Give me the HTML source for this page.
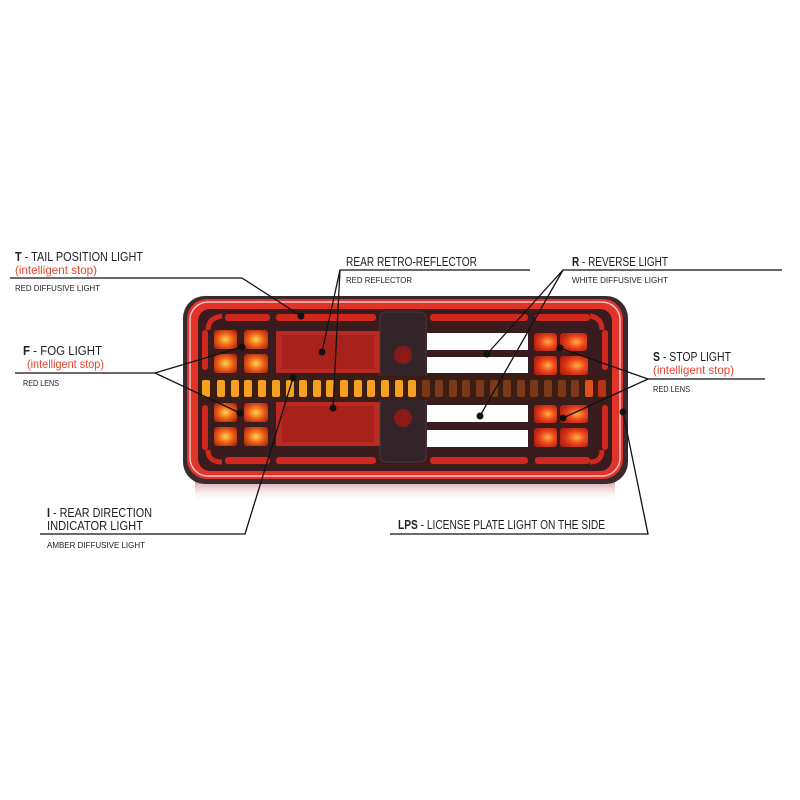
<!DOCTYPE html>
<html><head><meta charset="utf-8"><style>
html,body{margin:0;padding:0;background:#fff;}
svg{display:block}
.t{font-family:"Liberation Sans",sans-serif;fill:#222;}
.h{font-size:12.5px}
.s{font-size:8.5px}
.r{font-size:12px;fill:#e8452c}
</style></head><body>
<svg width="800" height="800" viewBox="0 0 800 800" xmlns="http://www.w3.org/2000/svg">
<defs>
<linearGradient id="refl" x1="0" y1="0" x2="0" y2="1">
<stop offset="0" stop-color="#c97a80" stop-opacity="0.8"/><stop offset="1" stop-color="#fff" stop-opacity="0"/>
</linearGradient>
<radialGradient id="led" cx="0.5" cy="0.5" r="0.6">
<stop offset="0" stop-color="#ffd24a"/><stop offset="0.5" stop-color="#f06a1a"/><stop offset="1" stop-color="#b42a10"/>
</radialGradient>
<radialGradient id="ledr" cx="0.6" cy="0.5" r="0.6">
<stop offset="0" stop-color="#ffb040"/><stop offset="0.5" stop-color="#ee4a1e"/><stop offset="1" stop-color="#b8220f"/>
</radialGradient>
</defs>
<rect x="195" y="480" width="420" height="22" fill="url(#refl)"/>
<rect x="183" y="296" width="445" height="188" rx="22" fill="#3a2a2e"/>
<rect x="187" y="299" width="436" height="180" rx="20" fill="#e2332a"/>
<rect x="190" y="302" width="430" height="174" rx="18" fill="none" stroke="#f3c8c4" stroke-width="1.5"/>
<rect x="198" y="309" width="414" height="162" rx="12" fill="#3a1c1e"/>
<rect x="225" y="314" width="45" height="7" rx="3" fill="#d0281f"/>
<rect x="276" y="314" width="100" height="7" rx="3" fill="#d0281f"/>
<rect x="430" y="314" width="98" height="7" rx="3" fill="#d0281f"/>
<rect x="535" y="314" width="55" height="7" rx="3" fill="#d0281f"/>
<rect x="225" y="457" width="45" height="7" rx="3" fill="#d0281f"/>
<rect x="276" y="457" width="100" height="7" rx="3" fill="#d0281f"/>
<rect x="430" y="457" width="98" height="7" rx="3" fill="#d0281f"/>
<rect x="535" y="457" width="55" height="7" rx="3" fill="#d0281f"/>
<rect x="202" y="330" width="6" height="40" rx="3" fill="#d0281f"/>
<rect x="202" y="405" width="6" height="45" rx="3" fill="#d0281f"/>
<rect x="602" y="330" width="6" height="40" rx="3" fill="#d0281f"/>
<rect x="602" y="405" width="6" height="45" rx="3" fill="#d0281f"/>
<path d="M208 330 Q208 318 222 316" stroke="#d0281f" stroke-width="5" fill="none"/>
<path d="M602 330 Q602 318 590 316" stroke="#d0281f" stroke-width="5" fill="none"/>
<path d="M208 450 Q208 462 222 462" stroke="#d0281f" stroke-width="5" fill="none"/>
<path d="M602 450 Q602 462 590 462" stroke="#d0281f" stroke-width="5" fill="none"/>
<g fill="url(#led)">
<rect x="214" y="330" width="23" height="19" rx="3"/><rect x="244" y="330" width="24" height="19" rx="3"/>
<rect x="214" y="354" width="23" height="19" rx="3"/><rect x="244" y="354" width="24" height="19" rx="3"/>
<rect x="214" y="403" width="23" height="19" rx="3"/><rect x="244" y="403" width="24" height="19" rx="3"/>
<rect x="214" y="427" width="23" height="19" rx="3"/><rect x="244" y="427" width="24" height="19" rx="3"/>
</g>
<rect x="276" y="331" width="104" height="42" fill="#b82a22"/>
<rect x="276" y="402" width="104" height="44" fill="#b82a22"/>
<rect x="282" y="335" width="92" height="34" fill="#a8221c"/>
<rect x="282" y="406" width="92" height="36" fill="#a8221c"/>
<rect x="380" y="312" width="46" height="150" rx="6" fill="#33242a" stroke="#4a3a40" stroke-width="1"/>
<circle cx="403" cy="355" r="9" fill="#8a1a18"/>
<circle cx="403" cy="418" r="9" fill="#8a1a18"/>
<g fill="#fdfdfd">
<rect x="427" y="333" width="101" height="17"/><rect x="427" y="357" width="101" height="16"/>
<rect x="427" y="405" width="101" height="17"/><rect x="427" y="430" width="101" height="17"/>
</g>
<g fill="url(#ledr)">
<rect x="534" y="333" width="23" height="18" rx="3"/><rect x="560" y="333" width="27" height="18" rx="3"/>
<rect x="534" y="356" width="23" height="19" rx="3"/><rect x="560" y="356" width="28" height="19" rx="3"/>
<rect x="534" y="405" width="23" height="18" rx="3"/><rect x="560" y="405" width="28" height="18" rx="3"/>
<rect x="534" y="428" width="23" height="19" rx="3"/><rect x="560" y="428" width="28" height="19" rx="3"/>
</g>
<rect x="198" y="376" width="414" height="24" fill="#3a1e14"/>
<g fill="#f5a020">
<rect x="202" y="380" width="8" height="17" rx="2"/><rect x="217" y="380" width="8" height="17" rx="2"/><rect x="231" y="380" width="8" height="17" rx="2"/><rect x="244" y="380" width="8" height="17" rx="2"/><rect x="258" y="380" width="8" height="17" rx="2"/><rect x="272" y="380" width="8" height="17" rx="2"/><rect x="286" y="380" width="8" height="17" rx="2"/><rect x="299" y="380" width="8" height="17" rx="2"/><rect x="313" y="380" width="8" height="17" rx="2"/><rect x="326" y="380" width="8" height="17" rx="2"/><rect x="340" y="380" width="8" height="17" rx="2"/><rect x="354" y="380" width="8" height="17" rx="2"/><rect x="367" y="380" width="8" height="17" rx="2"/><rect x="381" y="380" width="8" height="17" rx="2"/><rect x="395" y="380" width="8" height="17" rx="2"/><rect x="408" y="380" width="8" height="17" rx="2"/>
</g>
<g fill="#7a3a1a">
<rect x="422" y="380" width="8" height="17" rx="2"/><rect x="435" y="380" width="8" height="17" rx="2"/><rect x="449" y="380" width="8" height="17" rx="2"/><rect x="462" y="380" width="8" height="17" rx="2"/><rect x="476" y="380" width="8" height="17" rx="2"/><rect x="490" y="380" width="8" height="17" rx="2"/><rect x="503" y="380" width="8" height="17" rx="2"/><rect x="517" y="380" width="8" height="17" rx="2"/><rect x="530" y="380" width="8" height="17" rx="2"/><rect x="544" y="380" width="8" height="17" rx="2"/><rect x="558" y="380" width="8" height="17" rx="2"/><rect x="571" y="380" width="8" height="17" rx="2"/>
</g>
<rect x="585" y="380" width="8" height="17" rx="2" fill="#e0501c"/>
<rect x="598" y="380" width="8" height="17" rx="2" fill="#b8301a"/>

<g stroke="#111" stroke-width="1.3" fill="none">
<polyline points="10,278 242,278 301,316"/>
<polyline points="15,373 155,373 242,347"/>
<line x1="155" y1="373" x2="240" y2="413"/>
<polyline points="530,270 340,270 322,352"/>
<line x1="340" y1="270" x2="333" y2="408"/>
<polyline points="782,270 563,270 487,354"/>
<line x1="563" y1="270" x2="480" y2="416"/>
<polyline points="765,379 648,379 560,348"/>
<line x1="648" y1="379" x2="563" y2="418"/>
<polyline points="40,534 245,534 293,378"/>
<polyline points="390,534 648,534 623,412"/>
</g>
<g fill="#111">
<circle cx="301" cy="316" r="3.5"/><circle cx="242" cy="347" r="3.5"/><circle cx="240" cy="413" r="3.5"/>
<circle cx="322" cy="352" r="3.5"/><circle cx="333" cy="408" r="3.5"/>
<circle cx="487" cy="354" r="3.5"/><circle cx="480" cy="416" r="3.5"/>
<circle cx="560" cy="348" r="3.5"/><circle cx="563" cy="418" r="3.5"/>
<circle cx="293" cy="378" r="3.5"/><circle cx="623" cy="412" r="3.5"/>
</g>

<g lengthAdjust="spacingAndGlyphs">
<text class="t h" x="15" y="261" textLength="128" lengthAdjust="spacingAndGlyphs"><tspan font-weight="bold">T</tspan> - TAIL POSITION LIGHT</text>
<text class="t r" x="15" y="274" textLength="82" lengthAdjust="spacingAndGlyphs">(intelligent stop)</text>
<text class="t s" x="15" y="291" textLength="85" lengthAdjust="spacingAndGlyphs">RED DIFFUSIVE LIGHT</text>

<text class="t h" x="23" y="355" textLength="79" lengthAdjust="spacingAndGlyphs"><tspan font-weight="bold">F</tspan> - FOG LIGHT</text>
<text class="t r" x="27" y="368" textLength="77" lengthAdjust="spacingAndGlyphs">(intelligent stop)</text>
<text class="t s" x="23" y="386" textLength="36" lengthAdjust="spacingAndGlyphs">RED LENS</text>

<text class="t h" x="346" y="266" textLength="131" lengthAdjust="spacingAndGlyphs">REAR RETRO-REFLECTOR</text>
<text class="t s" x="346" y="283" textLength="66" lengthAdjust="spacingAndGlyphs">RED REFLECTOR</text>

<text class="t h" x="572" y="266" textLength="96" lengthAdjust="spacingAndGlyphs"><tspan font-weight="bold">R</tspan> - REVERSE LIGHT</text>
<text class="t s" x="572" y="283" textLength="96" lengthAdjust="spacingAndGlyphs">WHITE DIFFUSIVE LIGHT</text>

<text class="t h" x="653" y="361" textLength="78" lengthAdjust="spacingAndGlyphs"><tspan font-weight="bold">S</tspan> - STOP LIGHT</text>
<text class="t r" x="653" y="374" textLength="81" lengthAdjust="spacingAndGlyphs">(intelligent stop)</text>
<text class="t s" x="653" y="392" textLength="37" lengthAdjust="spacingAndGlyphs">RED LENS</text>

<text class="t h" x="47" y="517" textLength="105" lengthAdjust="spacingAndGlyphs"><tspan font-weight="bold">I</tspan> - REAR DIRECTION</text>
<text class="t h" x="47" y="530" textLength="96" lengthAdjust="spacingAndGlyphs">INDICATOR LIGHT</text>
<text class="t s" x="47" y="548" textLength="98" lengthAdjust="spacingAndGlyphs">AMBER DIFFUSIVE LIGHT</text>

<text class="t h" x="398" y="529" textLength="207" lengthAdjust="spacingAndGlyphs"><tspan font-weight="bold">LPS</tspan> - LICENSE PLATE LIGHT ON THE SIDE</text>
</g>
</svg>
</body></html>
